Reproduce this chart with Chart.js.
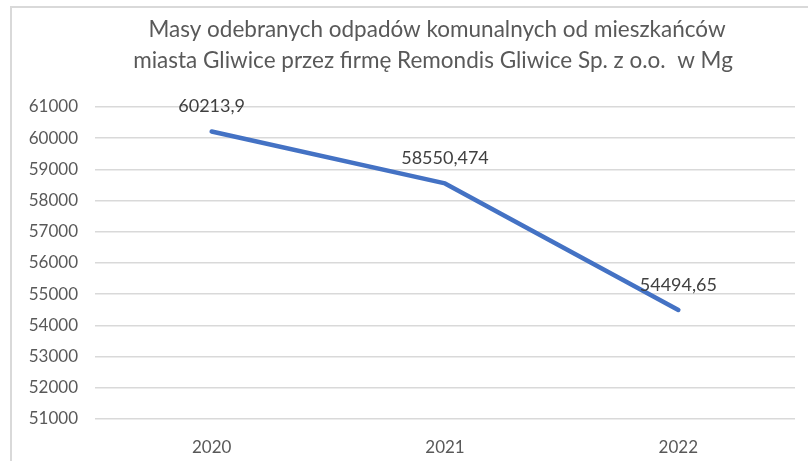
<!DOCTYPE html>
<html>
<head>
<meta charset="utf-8">
<script src="https://cdn.jsdelivr.net/npm/chart.js@4"></script>
<style>
  html, body { margin: 0; padding: 0; background: #fff; }
  #wrap { position: relative; width: 808px; height: 461px; }
</style>
</head>
<body>
<div id="wrap"><canvas id="wasteChart" width="808" height="461"></canvas></div>
<script>
// dane z wykresu
const years = ['2020', '2021', '2022'];
const masses = [60213.9, 58550.474, 54494.65];
const titleLines = [
    'Masy odebranych odpadów komunalnych od mieszkańców',
    'miasta Gliwice przez firmę Remondis Gliwice Sp. z o.o.  w Mg'
];
const yMin = 51000;
const yMax = 61000;
const yStep = 1000;

// ramka wykresu (góra i lewa krawędź) + tytuł
const framePlugin = {
    id: 'frame',
    beforeDraw(chart) {
        const ctx = chart.ctx;
        ctx.save();
        ctx.strokeStyle = '#d9d9d9';
        ctx.lineWidth = 2;
        ctx.beginPath();
        ctx.moveTo(11, chart.height);
        ctx.lineTo(11, 7);
        ctx.lineTo(chart.width, 7);
        ctx.stroke();

        ctx.fillStyle = '#595959';
        ctx.font = '22.5px Lato';
        ctx.textAlign = 'center';
        ctx.textBaseline = 'middle';
        ctx.fillText(titleLines[0], 437, 30);
        ctx.fillText(titleLines[1], 433, 61);
        ctx.restore();
    }
};

// etykiety wartości nad punktami
const valueLabels = {
    id: 'valueLabels',
    afterDatasetsDraw(chart) {
        const ctx = chart.ctx;
        const meta = chart.getDatasetMeta(0);
        ctx.save();
        ctx.fillStyle = '#404040';
        ctx.font = '18px Lato';
        ctx.textAlign = 'center';
        ctx.textBaseline = 'middle';
        meta.data.forEach((pt, i) => {
            const txt = String(masses[i]).replace('.', ',');
            ctx.fillText(txt, pt.x, pt.y - 25);
        });
        ctx.restore();
    }
};

const ctx = document.getElementById('wasteChart').getContext('2d');
new Chart(ctx, {
    type: 'line',
    data: {
        labels: years,
        datasets: [{
            data: masses,
            borderColor: '#4472c4',
            borderWidth: 4.5,
            borderCapStyle: 'round',
            borderJoinStyle: 'round',
            pointRadius: 0,
            tension: 0
        }]
    },
    options: {
        responsive: false,
        animation: false,
        layout: {
            padding: { left: 12, right: 13, top: 107, bottom: 0 }
        },
        scales: {
            x: {
                offset: true,
                grid: { display: false },
                border: { display: false },
                ticks: {
                    color: '#595959',
                    font: { family: 'Lato', size: 17 },
                    padding: 10
                },
                afterFit: function(scale) {
                    scale.height = 42;
                }
            },
            y: {
                min: yMin,
                max: yMax,
                grid: {
                    color: '#d9d9d9',
                    lineWidth: 1.5,
                    drawTicks: false
                },
                border: { display: false },
                ticks: {
                    stepSize: yStep,
                    color: '#595959',
                    font: { family: 'Lato', size: 17 },
                    padding: 17,
                    callback: function(value) {
                        return value;
                    }
                },
                afterFit: function(scale) {
                    scale.width = 83;
                }
            }
        },
        plugins: {
            legend: { display: false },
            title: { display: false },
            tooltip: { enabled: false }
        }
    },
    plugins: [framePlugin, valueLabels]
});
</script>
</body>
</html>
